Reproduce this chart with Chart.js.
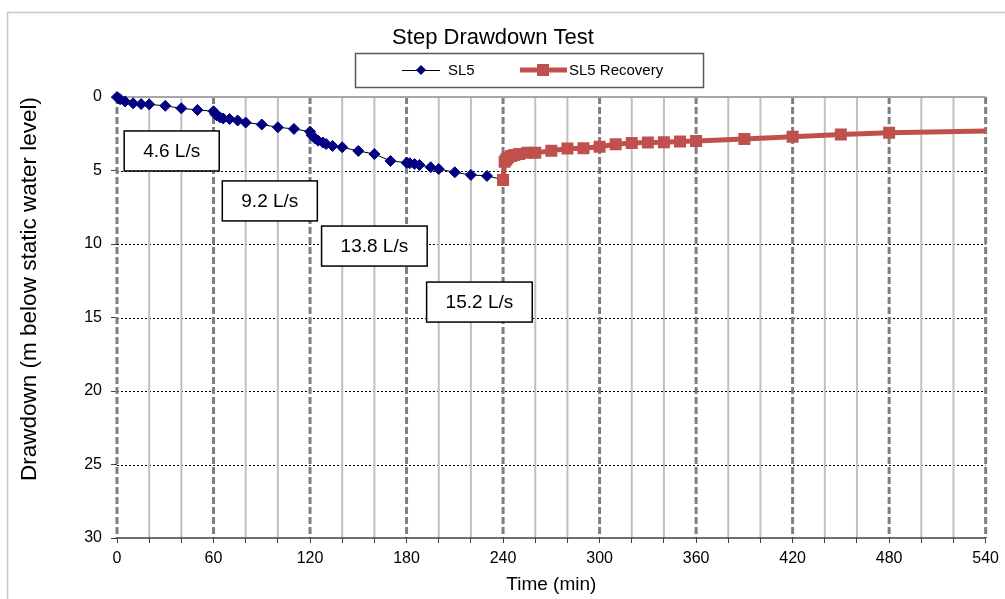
<!DOCTYPE html>
<html>
<head>
<meta charset="utf-8">
<script src="https://cdn.jsdelivr.net/npm/chart.js@4.4.1/dist/chart.umd.min.js"></script>
<style>
    html, body { margin: 0; padding: 0; background: #fff; }
    #wrap { width: 1005px; height: 599px; }
</style>
</head>
<body>
<div id="wrap"><canvas id="drawdown-chart" width="1005" height="599"></canvas></div>
<script>
// pumping steps, time (min) vs drawdown (m)
const sl5Time = [0, 1, 2, 5, 10, 15, 20, 30, 40, 50,
    60, 61, 62, 64, 66, 70, 75, 80, 90, 100,
    110, 120, 121, 123, 125, 128, 130, 134, 140, 150,
    160, 170, 180, 182, 185, 188, 195, 200, 210, 220,
    230, 240];
const sl5Drawdown = [0, 0.1, 0.16, 0.3, 0.43, 0.48, 0.5, 0.6, 0.77, 0.88,
    0.97, 1.15, 1.25, 1.38, 1.46, 1.5, 1.6, 1.74, 1.87, 2.06,
    2.17, 2.36, 2.6, 2.8, 2.97, 3.1, 3.2, 3.33, 3.42, 3.67,
    3.88, 4.35, 4.47, 4.5, 4.56, 4.62, 4.78, 4.9, 5.12, 5.3,
    5.37, 5.62];

// recovery after pump stop
const recoveryTime = [240, 241, 242, 243, 245, 247, 250, 255, 260, 270,
    280, 290, 300, 310, 320, 330, 340, 350, 360, 390,
    420, 450, 480, 600];
const recoveryDrawdown = [5.65, 4.4, 4.25, 4.12, 4.02, 3.95, 3.87, 3.8, 3.8, 3.65,
    3.5, 3.48, 3.38, 3.22, 3.13, 3.1, 3.08, 3.02, 3.0, 2.86,
    2.7, 2.55, 2.43, 2.2];

const seriesNames = ['SL5', 'SL5 Recovery'];
const rateLabels = ['4.6 L/s', '9.2 L/s', '13.8 L/s', '15.2 L/s'];
const xLabelValues = [0, 60, 120, 180, 240, 300, 360, 420, 480, 540];
const yLabelValues = [0, 5, 10, 15, 20, 25, 30];

// where the rate boxes sit (in axis units)
const rateBoxAt = [[34, 3.67], [95, 7.07], [160, 10.14], [225.3, 13.95]];

const FONT = "'Liberation Sans', Arial, sans-serif";
const BLUE = '#000080';
const RED = '#C0504D';

const toPoints = (xs, ys) => xs.map((x, i) => ({ x: x, y: ys[i] }));

const backgroundFrame = {
    id: 'backgroundFrame',
    beforeDraw(chart) {
        const ctx = chart.ctx;
        ctx.save();
        ctx.fillStyle = '#fff';
        ctx.fillRect(0, 0, chart.width, chart.height);
        ctx.strokeStyle = '#c8c8c8';
        ctx.lineWidth = 1.5;
        ctx.strokeRect(7.5, 12.5, 1010, 600);
        ctx.restore();
    }
};

const excelGrid = {
    id: 'excelGrid',
    beforeDatasetsDraw(chart) {
        const { ctx, chartArea: a } = chart;
        const x = chart.scales.x, y = chart.scales.y;
        ctx.save();
        // dotted horizontal lines
        ctx.strokeStyle = '#000';
        ctx.lineWidth = 1;
        ctx.setLineDash([2, 2]);
        y.ticks.forEach(t => {
            if (t.value <= 0 || t.value >= 30) return;
            const py = Math.round(y.getPixelForValue(t.value)) + 0.5;
            ctx.beginPath();
            ctx.moveTo(a.left, py);
            ctx.lineTo(a.right, py);
            ctx.stroke();
        });
        // verticals, dashed every hour
        x.ticks.forEach(t => {
            const px = x.getPixelForValue(t.value);
            const major = t.value % 60 === 0;
            ctx.setLineDash(major ? [7, 3] : []);
            ctx.strokeStyle = major ? '#7f7f7f' : '#c0c0c0';
            ctx.lineWidth = major ? 3 : 2;
            ctx.beginPath();
            ctx.moveTo(px, a.top);
            ctx.lineTo(px, a.bottom);
            ctx.stroke();
        });
        ctx.setLineDash([]);
        ctx.strokeStyle = '#a6a6a6';
        ctx.lineWidth = 2;
        ctx.beginPath();
        ctx.moveTo(a.left, a.top);
        ctx.lineTo(a.right, a.top);
        ctx.stroke();
        ctx.strokeStyle = '#404040';
        ctx.lineWidth = 1.5;
        ctx.beginPath();
        ctx.moveTo(a.left, a.bottom);
        ctx.lineTo(a.right, a.bottom);
        ctx.stroke();
        ctx.restore();
    }
};

const rateBoxes = {
    id: 'rateBoxes',
    afterDatasetsDraw(chart) {
        const ctx = chart.ctx;
        const x = chart.scales.x, y = chart.scales.y;
        ctx.save();
        ctx.font = '19px ' + FONT;
        ctx.textAlign = 'center';
        ctx.textBaseline = 'middle';
        rateLabels.forEach((label, i) => {
            const cx = x.getPixelForValue(rateBoxAt[i][0]);
            const cy = y.getPixelForValue(rateBoxAt[i][1]);
            const w = ctx.measureText(label).width + 38;
            const h = 40;
            ctx.fillStyle = '#fff';
            ctx.fillRect(cx - w / 2, cy - h / 2, w, h);
            ctx.strokeStyle = '#000';
            ctx.lineWidth = 1.5;
            ctx.strokeRect(cx - w / 2, cy - h / 2, w, h);
            ctx.fillStyle = '#000';
            ctx.fillText(label, cx, cy + 1);
        });
        ctx.restore();
    }
};

const boxLegend = {
    id: 'boxLegend',
    afterDraw(chart) {
        const ctx = chart.ctx;
        ctx.save();
        ctx.fillStyle = '#fff';
        ctx.fillRect(355, 53, 348, 34);
        ctx.strokeStyle = '#595959';
        ctx.lineWidth = 1.5;
        ctx.strokeRect(355.5, 53.5, 348, 34);
        const cy = 70;
        // SL5
        ctx.strokeStyle = '#000';
        ctx.lineWidth = 1;
        ctx.beginPath();
        ctx.moveTo(402, cy + 0.5);
        ctx.lineTo(440, cy + 0.5);
        ctx.stroke();
        ctx.fillStyle = BLUE;
        ctx.beginPath();
        ctx.moveTo(421, cy - 5);
        ctx.lineTo(426, cy);
        ctx.lineTo(421, cy + 5);
        ctx.lineTo(416, cy);
        ctx.closePath();
        ctx.fill();
        // recovery
        ctx.strokeStyle = RED;
        ctx.lineWidth = 5;
        ctx.beginPath();
        ctx.moveTo(520, cy);
        ctx.lineTo(567, cy);
        ctx.stroke();
        ctx.fillStyle = RED;
        ctx.fillRect(537, cy - 6, 12, 12);
        ctx.fillStyle = '#000';
        ctx.font = '15px ' + FONT;
        ctx.textBaseline = 'middle';
        ctx.fillText(seriesNames[0], 448, cy + 1);
        ctx.fillText(seriesNames[1], 569, cy + 1);
        ctx.restore();
    }
};

const yAxisTitle = {
    id: 'yAxisTitle',
    afterDraw(chart) {
        const ctx = chart.ctx;
        ctx.save();
        ctx.translate(30, 289);
        ctx.rotate(-Math.PI / 2);
        ctx.font = '22.5px ' + FONT;
        ctx.fillStyle = '#000';
        ctx.textAlign = 'center';
        ctx.textBaseline = 'middle';
        ctx.fillText('Drawdown (m below static water level)', 0, 0);
        ctx.restore();
    }
};

const ctx = document.getElementById('drawdown-chart').getContext('2d');

const drawdownChart = new Chart(ctx, {
    type: 'line',
    data: {
        datasets: [
            {
                label: seriesNames[1],
                data: toPoints(recoveryTime, recoveryDrawdown),
                borderColor: RED,
                backgroundColor: RED,
                borderWidth: 5,
                pointStyle: 'rect',
                pointRadius: 8.5,
                pointBackgroundColor: RED,
                pointBorderColor: RED,
                pointBorderWidth: 0,
                tension: 0,
                clip: 0,
                order: 0
            },
            {
                label: seriesNames[0],
                data: toPoints(sl5Time, sl5Drawdown),
                borderColor: '#000',
                backgroundColor: BLUE,
                borderWidth: 1,
                pointStyle: 'rectRot',
                pointRadius: 5.5,
                pointBackgroundColor: BLUE,
                pointBorderColor: BLUE,
                pointBorderWidth: 1,
                tension: 0,
                clip: false,
                order: 1
            }
        ]
    },
    options: {
        responsive: false,
        animation: false,
        layout: {
            padding: { left: 0, right: 19, top: 0, bottom: 0 }
        },
        plugins: {
            legend: { display: false },
            tooltip: { enabled: false },
            title: {
                display: true,
                text: 'Step Drawdown Test',
                color: '#000',
                font: { family: FONT, size: 22, weight: 'normal' },
                padding: { top: 25, bottom: 45.6 }
            }
        },
        scales: {
            x: {
                type: 'linear',
                min: 0,
                max: 540,
                afterFit: (scale) => { scale.height = 61; },
                ticks: {
                    stepSize: 20,
                    autoSkip: false,
                    maxRotation: 0,
                    padding: 6,
                    color: '#000',
                    font: { family: FONT, size: 16 },
                    callback: (v) => xLabelValues.includes(v) ? String(v) : ''
                },
                grid: {
                    drawOnChartArea: false,
                    drawTicks: true,
                    tickLength: 5,
                    tickColor: '#404040'
                },
                border: { display: false },
                title: {
                    display: true,
                    text: 'Time (min)',
                    color: '#000',
                    font: { family: FONT, size: 19 },
                    padding: { top: 0, bottom: 3 }
                }
            },
            y: {
                type: 'linear',
                reverse: true,
                min: 0,
                max: 30,
                afterFit: (scale) => { scale.width = 117; },
                ticks: {
                    stepSize: 5,
                    padding: 9,
                    color: '#000',
                    font: { family: FONT, size: 16 },
                    callback: (v) => yLabelValues.includes(v) ? String(v) : ''
                },
                grid: {
                    drawOnChartArea: false,
                    drawTicks: true,
                    tickLength: 6,
                    tickColor: '#404040'
                },
                border: { display: false }
            }
        }
    },
    plugins: [backgroundFrame, excelGrid, rateBoxes, boxLegend, yAxisTitle]
});
</script>
</body>
</html>
